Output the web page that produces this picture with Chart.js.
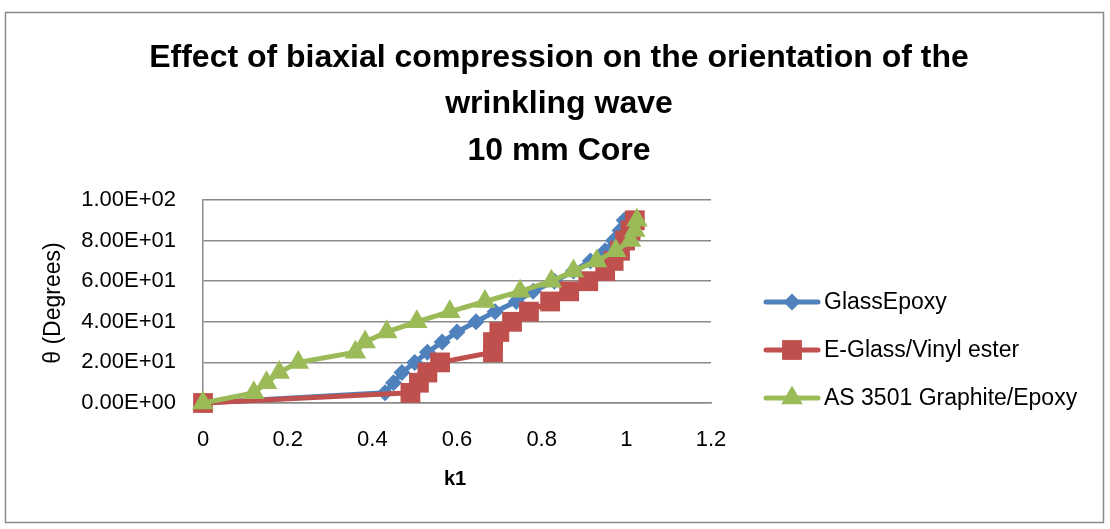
<!DOCTYPE html>
<html>
<head>
<meta charset="utf-8">
<script src="https://cdn.jsdelivr.net/npm/chart.js@4/dist/chart.umd.min.js"></script>
<style>
  html, body { margin: 0; padding: 0; background: #fff; }
  #wrap { position: relative; width: 1110px; height: 529px; }
  canvas { display: block; }
</style>
</head>
<body>
<div id="wrap"><canvas id="c" width="1110" height="529"></canvas></div>
<script>
// ---- Data ----
const titleLines = ['Effect of biaxial compression on the orientation of the', 'wrinkling wave', '10 mm Core'];
const xAxisTitle = 'k1';
const yAxisTitle = 'θ (Degrees)';
const seriesNames = ['GlassEpoxy', 'E-Glass/Vinyl ester', 'AS 3501 Graphite/Epoxy'];
const thetaDeg = [0, 5, 10, 15, 20, 25, 30, 35, 40, 45, 50, 55, 60, 65, 70, 75, 80, 85, 90];
const kGlassEpoxy = [0, 0.43, 0.45, 0.47, 0.50, 0.53, 0.565, 0.60, 0.645, 0.69, 0.74, 0.78, 0.83, 0.875, 0.915, 0.95, 0.97, 0.985, 0.995];
const kEGlassVinyl = [0, 0.49, 0.51, 0.53, 0.56, 0.685, 0.685, 0.70, 0.73, 0.77, 0.82, 0.865, 0.91, 0.95, 0.97, 0.985, 0.997, 1.01, 1.02];
const kAS3501 = [0, 0.12, 0.15, 0.18, 0.225, 0.36, 0.383, 0.434, 0.505, 0.583, 0.666, 0.749, 0.823, 0.875, 0.93, 0.975, 1.01, 1.02, 1.025];
const xTickLabels = ['0', '0.2', '0.4', '0.6', '0.8', '1', '1.2'];
const yTickLabels = ['0.00E+00', '2.00E+01', '4.00E+01', '6.00E+01', '8.00E+01', '1.00E+02'];

// ---- Styles ----
const FONT = '"Liberation Sans", Arial, sans-serif';
const colors = ['#4F81BD', '#C0504D', '#9BBB59'];
const pointStyles = ['rectRot', 'rect', 'triangle'];
const pointRadii = [8.5, 14, 12.5];
const GRID = '#8a8a8a';

function toXY(ks, th) { return ks.map((k, i) => ({ x: k, y: th[i] })); }

const seriesK = [kGlassEpoxy, kEGlassVinyl, kAS3501];
const datasets = seriesK.map((ks, i) => ({
  label: seriesNames[i],
  data: toXY(ks, thetaDeg),
  borderColor: colors[i],
  backgroundColor: colors[i],
  pointBackgroundColor: colors[i],
  pointBorderColor: colors[i],
  pointBorderWidth: 0,
  pointStyle: pointStyles[i],
  pointRadius: pointRadii[i],
  pointHoverRadius: pointRadii[i],
  borderWidth: 5,
  tension: 0,
  clip: false,
  order: 3 - i
}));

function drawMarker(ctx, style, r, x, y) {
  ctx.beginPath();
  if (style === 'rectRot') {
    ctx.moveTo(x, y - r); ctx.lineTo(x + r, y); ctx.lineTo(x, y + r); ctx.lineTo(x - r, y);
  } else if (style === 'rect') {
    const s = r * Math.SQRT1_2;
    ctx.rect(x - s, y - s, 2 * s, 2 * s);
  } else {
    const a = r * Math.sin(Math.PI / 3);
    ctx.moveTo(x, y - r); ctx.lineTo(x + a, y + r / 2); ctx.lineTo(x - a, y + r / 2);
  }
  ctx.closePath();
  ctx.fill();
}

const decor = {
  id: 'decor',
  beforeDraw(chart) {
    const ctx = chart.ctx;
    ctx.save();
    ctx.fillStyle = '#fff';
    ctx.fillRect(0, 0, chart.width, chart.height);
    ctx.strokeStyle = '#8a8a8a';
    ctx.lineWidth = 1.5;
    ctx.strokeRect(5.5, 12.5, 1098, 510);
    ctx.restore();
  },
  afterDraw(chart) {
    const ctx = chart.ctx;
    ctx.save();
    // title
    ctx.fillStyle = '#000';
    ctx.textAlign = 'center';
    ctx.textBaseline = 'alphabetic';
    ctx.font = 'bold 32px ' + FONT;
    const baselines = [67, 113, 160];
    titleLines.forEach((t, i) => ctx.fillText(t, 559, baselines[i]));
    // x axis title
    ctx.font = 'bold 20px ' + FONT;
    ctx.textBaseline = 'middle';
    ctx.fillText(xAxisTitle, 455, 479);
    // y axis title
    ctx.save();
    ctx.translate(54, 303);
    ctx.rotate(-Math.PI / 2);
    ctx.font = '23px ' + FONT;
    ctx.fillText(yAxisTitle, 0, 0);
    ctx.restore();
    // legend
    const ly = [302, 350, 398];
    chart.data.datasets.forEach((ds, i) => {
      const y = ly[i];
      ctx.strokeStyle = ds.borderColor;
      ctx.lineWidth = 5;
      ctx.lineCap = 'round';
      ctx.beginPath();
      ctx.moveTo(766, y); ctx.lineTo(818, y);
      ctx.stroke();
      ctx.fillStyle = ds.pointBackgroundColor;
      drawMarker(ctx, ds.pointStyle, ds.pointRadius, 792, y);
      ctx.fillStyle = '#000';
      ctx.textAlign = 'left';
      ctx.textBaseline = 'middle';
      ctx.font = '23px ' + FONT;
      ctx.fillText(ds.label, 824, y + 1);
    });
    ctx.restore();
  }
};

new Chart(document.getElementById('c'), {
  type: 'line',
  data: { datasets },
  options: {
    responsive: false,
    animation: false,
    devicePixelRatio: 1,
    layout: { padding: { top: 200, right: 399, left: 0, bottom: 0 } },
    plugins: { legend: { display: false }, title: { display: false }, tooltip: { enabled: false } },
    elements: { line: { borderCapStyle: 'round', borderJoinStyle: 'round' } },
    scales: {
      x: {
        type: 'linear', min: 0, max: 1.2,
        ticks: { stepSize: 0.2, padding: 24, color: '#000', font: { family: FONT, size: 22 },
          callback: (v, i) => xTickLabels[i] },
        grid: { drawOnChartArea: false, drawTicks: false },
        border: { display: true, color: GRID, width: 1.5 },
        afterFit: s => { s.height = 126; }
      },
      y: {
        type: 'linear', min: 0, max: 100,
        ticks: { stepSize: 20, padding: 27, color: '#000', font: { family: FONT, size: 22 },
          callback: (v, i) => yTickLabels[i] },
        grid: { color: GRID, lineWidth: 1.5, drawTicks: false },
        border: { display: true, color: GRID, width: 1.5 },
        afterFit: s => { s.width = 203; }
      }
    }
  },
  plugins: [decor]
});
</script>
</body>
</html>
